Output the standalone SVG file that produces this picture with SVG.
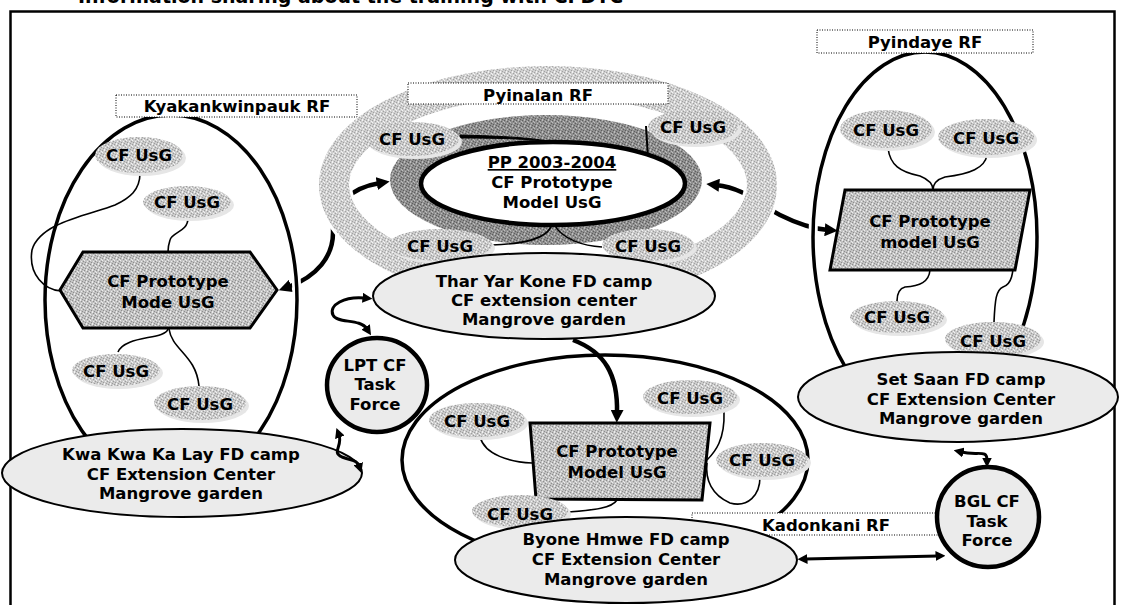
<svg xmlns="http://www.w3.org/2000/svg" width="1121" height="605" viewBox="0 0 1121 605">
<style>
.t{font-family:"DejaVu Sans",Verdana,sans-serif;font-weight:bold;font-size:16.5px;text-anchor:middle;fill:#000}
.ttl{font-family:"DejaVu Sans",Verdana,sans-serif;font-weight:bold;font-size:19px;fill:#000}
.usg{fill:url(#pA)}
.sh{fill:#e6e6e6}
.grp{fill:none;stroke:#000;stroke-width:3.5}
.halo{fill:none;stroke:#fff;stroke-width:9}
.proc{fill:#ebebeb;stroke:#000;stroke-width:2}
.tf{fill:#ebebeb;stroke:#000;stroke-width:4.5}
.shape{fill:url(#pB);stroke:#000;stroke-width:3}
.lbl{fill:#fff;stroke:#000;stroke-width:1;stroke-dasharray:1 1.5}
.c{fill:none;stroke:#000;stroke-width:1.6}
.a{fill:none;stroke:#000;stroke-width:4.5}
.a2{fill:none;stroke:#000;stroke-width:3}
</style>
<defs>
<pattern id="pA" width="6" height="6" patternUnits="userSpaceOnUse">
<rect width="6" height="6" fill="#cacaca"/>
<path d="M0 0h1v1H0zM3 1h1v1H3zM5 3h1v1H5zM1 4h1v1H1zM4 5h1v1H4z" fill="#9c9c9c"/>
<path d="M2 0h1v1H2zM5 1h1v1H5zM0 2h1v1H0zM3 3h1v1H3zM2 5h1v1H2z" fill="#f2f2f2"/>
</pattern>
<pattern id="pB" width="6" height="6" patternUnits="userSpaceOnUse">
<rect width="6" height="6" fill="#c2c2c2"/>
<path d="M0 0h1v1H0zM3 1h1v1H3zM5 3h1v1H5zM1 4h1v1H1zM4 5h1v1H4z" fill="#8e8e8e"/>
<path d="M2 0h1v1H2zM5 1h1v1H5zM0 2h1v1H0zM3 3h1v1H3zM2 5h1v1H2z" fill="#ececec"/>
</pattern>
<pattern id="pD" width="6" height="6" patternUnits="userSpaceOnUse">
<rect width="6" height="6" fill="#8e8e8e"/>
<path d="M0 0h1v1H0zM3 1h1v1H3zM5 3h1v1H5zM1 4h1v1H1zM4 5h1v1H4z" fill="#5e5e5e"/>
<path d="M2 0h1v1H2zM5 1h1v1H5zM0 2h1v1H0zM3 3h1v1H3zM2 5h1v1H2z" fill="#bdbdbd"/>
</pattern>
<pattern id="pL" width="6" height="6" patternUnits="userSpaceOnUse">
<rect width="6" height="6" fill="#cfcfcf"/>
<path d="M0 0h1v1H0zM3 1h1v1H3zM5 3h1v1H5zM1 4h1v1H1zM4 5h1v1H4z" fill="#a2a2a2"/>
<path d="M2 0h1v1H2zM5 1h1v1H5zM0 2h1v1H0zM3 3h1v1H3zM2 5h1v1H2z" fill="#f4f4f4"/>
</pattern>
<marker id="mh" viewBox="0 0 12 12" refX="3" refY="6" markerWidth="13" markerHeight="13" markerUnits="userSpaceOnUse" orient="auto-start-reverse"><path d="M0,0 L12,6 L0,12 z" fill="#000"/></marker>
<marker id="ms" viewBox="0 0 12 12" refX="3" refY="6" markerWidth="10" markerHeight="10" markerUnits="userSpaceOnUse" orient="auto-start-reverse"><path d="M0,0 L12,6 L0,12 z" fill="#000"/></marker>
</defs>

<g id="frame">
<rect x="10.5" y="11.5" width="1104" height="620" fill="none" stroke="#000" stroke-width="2.5"/>
<text class="ttl" x="78" y="3">Information sharing about the training with CFDTC</text>
</g>

<g id="pyinalan-dark-ring">
<ellipse cx="546" cy="180" rx="156" ry="65" fill="url(#pD)"/>
</g>

<g id="connectors-thick-under">
<path class="a" d="M288,287 C316,277 334,257 333,230 C333,205 350,188 380,183" marker-start="url(#mh)" marker-end="url(#mh)"/>
<path class="a" d="M716,185 C745,188 760,205 780,215 C800,225 815,229 828,230" marker-start="url(#mh)" marker-end="url(#mh)"/>
</g>

<g id="pyinalan-ring">
<ellipse cx="548" cy="185" rx="214" ry="104" fill="none" stroke="#fff" stroke-width="36"/>
<ellipse cx="548" cy="185" rx="214" ry="104" fill="none" stroke="url(#pL)" stroke-width="30"/>
</g>

<g id="kyakankwinpauk-rf">
<ellipse class="halo" cx="171" cy="300" rx="126" ry="185"/>
<ellipse class="grp" cx="171" cy="300" rx="126" ry="185"/>
<rect class="lbl" x="116" y="95" width="241" height="22"/>
<text class="t" x="237" y="112">Kyakankwinpauk RF</text>
</g>

<g id="pyindaye-rf">
<ellipse class="halo" cx="925" cy="237" rx="112" ry="185"/>
<ellipse class="grp" cx="925" cy="237" rx="112" ry="185"/>
<rect class="lbl" x="817" y="30" width="216" height="23"/>
<text class="t" x="925" y="48">Pyindaye RF</text>
</g>

<g id="kadonkani-rf">
<ellipse class="halo" cx="605" cy="460" rx="203" ry="105"/>
<ellipse class="grp" cx="605" cy="460" rx="203" ry="105"/>
</g>

<g id="pyinalan-label">
<rect class="lbl" x="408" y="83" width="260" height="21"/>
<text class="t" x="538" y="101">Pyinalan RF</text>
</g>

<g id="connectors">
<path class="c" d="M140,173 C140,190 130,198 115,205 C90,215 40,222 32,250 C28,275 45,290 61,291"/>
<path class="c" d="M188,218 C188,232 172,232 170,240 C168,246 168,250 168,252"/>
<path class="c" d="M168,329 C165,340 125,335 118,352"/>
<path class="c" d="M169,329 C172,350 196,355 199,386"/>
<path d="M460,135 C500,136 540,138 556,143 C540,139 500,138 460,138 Z" fill="#000" stroke="#000" stroke-width="1"/>
<path class="c" d="M646,126 L648,158" style="stroke-width:2"/>
<path class="c" d="M552,224 C548,240 520,244 492,245"/>
<path class="c" d="M554,224 C562,240 585,246 602,247"/>
<path class="c" d="M480,437 C485,455 510,462 532,463"/>
<path class="c" d="M724,412 C725,440 715,452 707,460"/>
<path class="c" d="M707,463 C705,480 712,495 730,503 C748,508 760,495 760,477"/>
<path class="c" d="M568,512 C595,510 612,508 617,500"/>
<path class="c" d="M888,148 C890,165 900,172 920,176 C930,180 933,185 933,190"/>
<path class="c" d="M987,155 C985,168 970,174 945,177 C935,180 933,185 933,190"/>
<path class="c" d="M930,270 C929,282 920,286 905,287 C898,289 897,295 897,301"/>
<path class="c" d="M1015,250 C1013,275 1012,284 1003,287 C996,290 995,300 994,322"/>
</g>

<g id="pp-2003-2004">
<ellipse cx="553" cy="183.5" rx="132" ry="41.5" fill="#fff" stroke="#000" stroke-width="4.5"/>
<text class="t" x="552" y="168" text-decoration="underline">PP 2003-2004</text>
<text class="t" x="552" y="188">CF Prototype</text>
<text class="t" x="552" y="208">Model UsG</text>
</g>

<g id="usg-l1"><ellipse class="sh" cx="142" cy="158" rx="44" ry="18"/><ellipse class="usg" cx="139" cy="155" rx="44" ry="18"/><text class="t" x="139" y="161">CF UsG</text></g>
<g id="usg-l2"><ellipse class="sh" cx="190" cy="205" rx="44" ry="16"/><ellipse class="usg" cx="187" cy="202" rx="44" ry="16"/><text class="t" x="187" y="208">CF UsG</text></g>
<g id="proto-left">
<polygon class="shape" points="60,290 83,252 250,252 277,290 250,328 83,328"/>
<text class="t" x="168" y="287">CF Prototype</text>
<text class="t" x="168" y="308">Mode UsG</text>
</g>
<g id="usg-l4"><ellipse class="sh" cx="119" cy="373" rx="44" ry="16"/><ellipse class="usg" cx="116" cy="370" rx="44" ry="16"/><text class="t" x="116" y="377">CF UsG</text></g>
<g id="usg-l5"><ellipse class="sh" cx="203" cy="406" rx="46" ry="17"/><ellipse class="usg" cx="200" cy="403" rx="46" ry="17"/><text class="t" x="200" y="410">CF UsG</text></g>
<g id="kwa-kwa-ka-lay">
<ellipse class="proc" cx="182" cy="473" rx="180" ry="44"/>
<text class="t" x="181" y="460">Kwa Kwa Ka Lay FD camp</text>
<text class="t" x="181" y="480">CF Extension Center</text>
<text class="t" x="181" y="499">Mangrove garden</text>
</g>

<g id="usg-c1"><ellipse class="sh" cx="415" cy="142" rx="47" ry="17"/><ellipse class="usg" cx="412" cy="139" rx="47" ry="17"/><text class="t" x="412" y="145">CF UsG</text></g>
<g id="usg-c2"><ellipse class="sh" cx="696" cy="130" rx="45" ry="17"/><ellipse class="usg" cx="693" cy="127" rx="45" ry="17"/><text class="t" x="693" y="133">CF UsG</text></g>
<g id="usg-c3"><ellipse class="sh" cx="443" cy="248" rx="52" ry="16"/><ellipse class="usg" cx="440" cy="245" rx="52" ry="16"/><text class="t" x="440" y="252">CF UsG</text></g>
<g id="usg-c4"><ellipse class="sh" cx="651" cy="248" rx="46" ry="16"/><ellipse class="usg" cx="648" cy="245" rx="46" ry="16"/><text class="t" x="648" y="252">CF UsG</text></g>

<g id="thar-yar-kone">
<ellipse class="proc" cx="544" cy="296" rx="171" ry="43"/>
<text class="t" x="544" y="287">Thar Yar Kone FD camp</text>
<text class="t" x="544" y="306">CF extension center</text>
<text class="t" x="544" y="325">Mangrove garden</text>
</g>

<g id="lpt-task-force">
<ellipse class="tf" cx="377" cy="385" rx="50" ry="47"/>
<text class="t" x="375" y="371">LPT CF</text>
<text class="t" x="375" y="390">Task</text>
<text class="t" x="375" y="410">Force</text>
</g>

<g id="usg-b1"><ellipse class="sh" cx="480" cy="423" rx="48" ry="17"/><ellipse class="usg" cx="477" cy="420" rx="48" ry="17"/><text class="t" x="477" y="427">CF UsG</text></g>
<g id="usg-b2"><ellipse class="sh" cx="693" cy="400" rx="47" ry="17"/><ellipse class="usg" cx="690" cy="397" rx="47" ry="17"/><text class="t" x="690" y="404">CF UsG</text></g>
<g id="usg-b3"><ellipse class="sh" cx="765" cy="463" rx="46" ry="17"/><ellipse class="usg" cx="762" cy="460" rx="46" ry="17"/><text class="t" x="762" y="466">CF UsG</text></g>
<g id="proto-bottom">
<polygon class="shape" points="530,423 710,423 702,500 536,499"/>
<text class="t" x="617" y="457">CF Prototype</text>
<text class="t" x="617" y="478">Model UsG</text>
</g>
<g id="usg-b4"><ellipse class="sh" cx="523" cy="514" rx="48" ry="16"/><ellipse class="usg" cx="520" cy="511" rx="48" ry="16"/><text class="t" x="520" y="520">CF UsG</text></g>

<g id="kadonkani-label">
<rect class="lbl" x="692" y="513" width="268" height="22"/>
<text class="t" x="826" y="531">Kadonkani RF</text>
</g>

<g id="byone-hmwe">
<ellipse class="proc" cx="626" cy="560" rx="171" ry="43"/>
<text class="t" x="626" y="545">Byone Hmwe FD camp</text>
<text class="t" x="626" y="565">CF Extension Center</text>
<text class="t" x="626" y="585">Mangrove garden</text>
</g>

<g id="usg-r1"><ellipse class="sh" cx="889" cy="132" rx="46" ry="19"/><ellipse class="usg" cx="886" cy="129" rx="46" ry="19"/><text class="t" x="886" y="136">CF UsG</text></g>
<g id="usg-r2"><ellipse class="sh" cx="989" cy="140" rx="48" ry="18"/><ellipse class="usg" cx="986" cy="137" rx="48" ry="18"/><text class="t" x="986" y="144">CF UsG</text></g>
<g id="proto-right">
<polygon class="shape" points="845,190 1030,190 1015,270 830,270"/>
<text class="t" x="930" y="227">CF Prototype</text>
<text class="t" x="930" y="248">model UsG</text>
</g>
<g id="usg-r3"><ellipse class="sh" cx="900" cy="320" rx="47" ry="16"/><ellipse class="usg" cx="897" cy="317" rx="47" ry="16"/><text class="t" x="897" y="323">CF UsG</text></g>
<g id="usg-r4"><ellipse class="sh" cx="996" cy="342" rx="48" ry="17"/><ellipse class="usg" cx="993" cy="339" rx="48" ry="17"/><text class="t" x="993" y="347">CF UsG</text></g>

<g id="set-saan">
<ellipse class="proc" cx="958" cy="397" rx="160" ry="45"/>
<text class="t" x="961" y="385">Set Saan FD camp</text>
<text class="t" x="961" y="405">CF Extension Center</text>
<text class="t" x="961" y="424">Mangrove garden</text>
</g>

<g id="bgl-task-force">
<ellipse class="tf" cx="988" cy="517" rx="51" ry="50"/>
<text class="t" x="987" y="507">BGL CF</text>
<text class="t" x="987" y="527">Task</text>
<text class="t" x="987" y="546">Force</text>
</g>

<g id="connectors-thick">
<path class="a" d="M573,340 C605,352 618,375 617,413" marker-end="url(#mh)"/>
<path class="a2" d="M365,298 C345,296 328,305 333,315 C337,324 360,318 367,329" marker-start="url(#ms)" marker-end="url(#ms)"/>
<path class="a2" d="M339,435 C343,446 331,452 342,457 C352,461 357,460 359,466" marker-start="url(#ms)" marker-end="url(#ms)"/>
<path class="a2" d="M961,452 C978,456 987,449 987,460" marker-start="url(#ms)" marker-end="url(#ms)"/>
<path class="a2" d="M805,559 L938,556" marker-start="url(#ms)" marker-end="url(#ms)"/>
</g>
</svg>
